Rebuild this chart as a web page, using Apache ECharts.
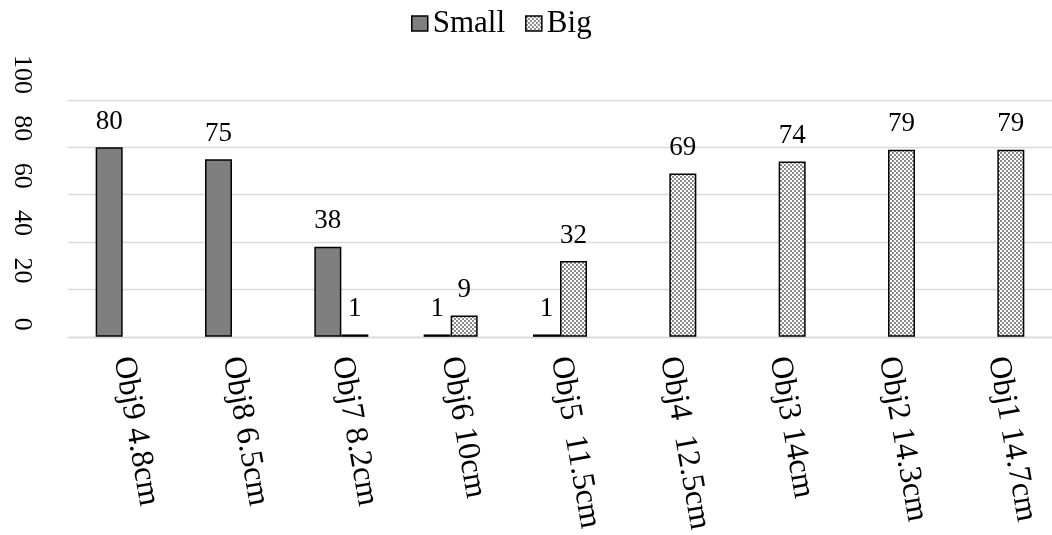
<!DOCTYPE html>
<html>
<head>
<meta charset="utf-8">
<script src="https://cdn.jsdelivr.net/npm/echarts@6/dist/echarts.min.js"></script>
<style>
  html, body { margin: 0; padding: 0; background: #fff; }
  #chart { width: 1052px; height: 535px; }
</style>
</head>
<body>
<div id="chart"></div>
<script>
// Objects and their sizes along the horizontal axis
const categories = ['Obj9 4.8cm', 'Obj8 6.5cm', 'Obj7 8.2cm', 'Obj6 10cm', 'Obj5  11.5cm',
                    'Obj4  12.5cm', 'Obj3 14cm', 'Obj2 14.3cm', 'Obj1 14.7cm'];
// Percentages per object (null = no bar drawn)
const smallValues = [80, 75, 38, 1, 1, null, null, null, null];
const bigValues = [null, null, 1, 9, 32, 69, 74, 79, 79];
const seriesNames = ['Small', 'Big'];
const yTicks = { min: 0, max: 100, step: 20 };

const serif = 'Liberation Serif, serif';

// Checkerboard fill for the "Big" bars
function checkerPattern() {
  const c = document.createElement('canvas');
  c.width = 4; c.height = 4;
  const g = c.getContext('2d');
  g.fillStyle = '#ffffff';
  g.fillRect(0, 0, 4, 4);
  g.fillStyle = '#8c8c8c';
  g.fillRect(0, 0, 2, 2);
  g.fillRect(2, 2, 2, 2);
  return c;
}

const chart = echarts.init(document.getElementById('chart'), null, { renderer: 'canvas' });

const labelStyle = {
  show: true,
  position: 'top',
  distance: 12,
  fontFamily: serif,
  fontSize: 27,
  color: '#000'
};

chart.setOption({
  animation: false,
  backgroundColor: '#fff',
  textStyle: { fontFamily: serif },
  legend: {
    top: 3,
    left: 406,
    icon: 'rect',
    itemWidth: 16,
    itemHeight: 15,
    itemGap: 20,
    itemStyle: { borderColor: '#000', borderWidth: 1.5 },
    textStyle: { fontFamily: serif, fontSize: 31, color: '#000' },
    data: seriesNames
  },
  grid: { left: 68, right: -6, top: 100, bottom: 198, containLabel: false },
  xAxis: {
    type: 'category',
    data: categories,
    axisLine: { show: true, lineStyle: { color: '#d9d9d9', width: 1.3 } },
    axisTick: { show: false },
    axisLabel: {
      interval: 0,
      rotate: -80,
      margin: 20,
      fontFamily: serif,
      fontSize: 32,
      color: '#000'
    }
  },
  yAxis: {
    type: 'value',
    min: yTicks.min,
    max: yTicks.max,
    interval: yTicks.step,
    axisLine: { show: false },
    axisTick: { show: false },
    splitLine: { lineStyle: { color: '#d9d9d9', width: 1.3 } },
    axisLabel: {
      rotate: -90,
      align: 'right',
      verticalAlign: 'middle',
      margin: 46,
      padding: [0, 6, 0, 0],
      fontFamily: serif,
      fontSize: 26,
      color: '#000'
    }
  },
  series: [
    {
      name: seriesNames[0],
      type: 'bar',
      data: smallValues,
      barWidth: 27,
      barGap: '0%',
      itemStyle: { color: '#7f7f7f', borderColor: '#000', borderWidth: 1.5 },
      label: labelStyle
    },
    {
      name: seriesNames[1],
      type: 'bar',
      data: bigValues,
      barWidth: 27,
      barGap: '0%',
      itemStyle: {
        color: { image: checkerPattern(), repeat: 'repeat' },
        borderColor: '#000',
        borderWidth: 1.5
      },
      label: labelStyle
    }
  ]
});
</script>
</body>
</html>
